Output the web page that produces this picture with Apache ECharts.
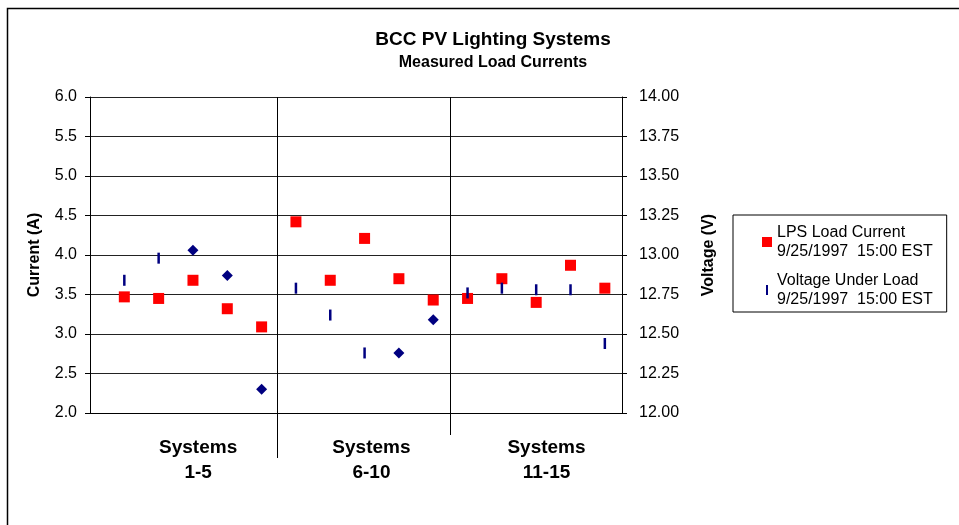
<!DOCTYPE html>
<html>
<head>
<meta charset="utf-8">
<script src="https://cdn.jsdelivr.net/npm/echarts@6/dist/echarts.min.js"></script>
<style>
  html, body { margin: 0; padding: 0; background: #fff; }
  #chart { width: 959px; height: 525px; }
</style>
</head>
<body>
<div id="chart"></div>
<script>
// data
var systems = [1, 2, 3, 4, 5, 6, 7, 8, 9, 10, 11, 12, 13, 14, 15];
var loadCurrent = [3.47, 3.45, 3.68, 3.32, 3.09, 4.42, 3.68, 4.21, 3.70, 3.43, 3.45, 3.70, 3.40, 3.87, 3.58];
var voltageUnderLoad = [12.84, 12.98, null, null, null, 12.79, 12.62, 12.38, null, null, 12.76, 12.79, 12.78, 12.78, 12.44];
var voltageOther = [null, null, 13.03, 12.87, 12.15, null, null, null, 12.38, 12.59, null, null, null, null, null];
var currentTicks = [2.0, 2.5, 3.0, 3.5, 4.0, 4.5, 5.0, 5.5, 6.0];
var voltageTicks = [12.0, 12.25, 12.5, 12.75, 13.0, 13.25, 13.5, 13.75, 14.0];
var groupLabels = ["Systems\n1-5", "Systems\n6-10", "Systems\n11-15"];
var groupCenters = [3.15, 8.2, 13.3];
var dividers = [5.45, 10.5];
var legendDate = "9/25/1997  15:00 EST";

function pairs(xs, ys) {
  var out = [];
  for (var i = 0; i < xs.length; i++) {
    if (ys[i] != null) out.push([xs[i], ys[i]]);
  }
  return out;
}

var font = "Liberation Sans, Arial, sans-serif";
var myChart = echarts.init(document.getElementById("chart"));

var option = {
  animation: false,
  textStyle: { fontFamily: font },
  title: {
    text: "BCC PV Lighting Systems",
    subtext: "Measured Load Currents",
    left: 488,
    top: 25,
    textAlign: "center",
    itemGap: 6,
    textStyle: { fontFamily: font, fontSize: 19, fontWeight: "bold", color: "#000" },
    subtextStyle: { fontFamily: font, fontSize: 16, fontWeight: "bold", color: "#000" },
  },
  legend: {
    orient: "vertical",
    left: 733,
    top: 215,
    padding: [8, 14, 3, 29],
    itemGap: 10,
    borderColor: "#000",
    borderWidth: 1,
    itemWidth: 10,
    itemHeight: 10,
    data: [
      { name: "LPS Load Current", icon: "rect" },
      { name: "Voltage Under Load", icon: "path://M4,0h2v10h-2z", itemStyle: { color: "#000080" } },
    ],
    formatter: function (name) {
      return name + "\n" + legendDate;
    },
    textStyle: { fontFamily: font, fontSize: 16, color: "#000", lineHeight: 19 },
  },
  grid: {
    left: 90,
    right: 337,
    top: 97,
    bottom: 112,
  },
  xAxis: {
    type: "value",
    min: 0,
    max: 15.5,
    axisLabel: { show: false },
    axisTick: { show: false },
    splitLine: { show: false },
    axisLine: { show: true, lineStyle: { color: "#000" } },
  },
  yAxis: [
    {
      type: "value",
      min: currentTicks[0],
      max: currentTicks[currentTicks.length - 1],
      interval: 0.5,
      name: "Current (A)",
      nameLocation: "middle",
      nameGap: 47,
      nameTextStyle: { fontFamily: font, fontSize: 16, fontWeight: "bold", color: "#000" },
      axisLine: { show: true, lineStyle: { color: "#000" } },
      axisTick: { show: true, length: 5, lineStyle: { color: "#000" } },
      axisLabel: {
        margin: 13,
        fontSize: 16,
        color: "#000",
        formatter: function (v) { return v.toFixed(1); },
      },
      splitLine: { show: true, lineStyle: { color: "#222", width: 1 } },
    },
    {
      type: "value",
      position: "right",
      min: voltageTicks[0],
      max: voltageTicks[voltageTicks.length - 1],
      interval: 0.25,
      name: "Voltage (V)",
      nameLocation: "middle",
      nameGap: 79,
      nameRotate: 90,
      nameTextStyle: { fontFamily: font, fontSize: 16, fontWeight: "bold", color: "#000" },
      axisLine: { show: true, lineStyle: { color: "#000" } },
      axisTick: { show: true, length: 5, lineStyle: { color: "#000" } },
      axisLabel: {
        margin: 17,
        fontSize: 16,
        color: "#000",
        formatter: function (v) { return v.toFixed(2); },
      },
      splitLine: { show: false },
    },
  ],
  series: [
    {
      name: "LPS Load Current",
      type: "scatter",
      yAxisIndex: 0,
      symbol: "rect",
      symbolSize: 11,
      itemStyle: { color: "#ff0000", opacity: 1 },
      data: pairs(systems, loadCurrent),
      z: 3,
    },
    {
      name: "Voltage Under Load",
      type: "scatter",
      yAxisIndex: 1,
      symbol: "rect",
      symbolSize: [2.5, 11],
      itemStyle: { color: "#000080", opacity: 1 },
      data: pairs(systems, voltageUnderLoad),
      z: 3,
    },
    {
      name: "Voltage (other)",
      type: "scatter",
      yAxisIndex: 1,
      symbol: "diamond",
      symbolSize: 11,
      itemStyle: { color: "#000080", opacity: 1 },
      data: pairs(systems, voltageOther),
      z: 3,
    },
  ],
};

myChart.setOption(option);

// group dividers and labels, placed through the x axis scale
var graphics = [
  {
    type: "rect",
    shape: { x: 7.5, y: 8.5, width: 1000, height: 1000 },
    style: { fill: null, stroke: "#000", lineWidth: 1.5 },
    silent: true,
  },
];
var topY = myChart.convertToPixel({ yAxisIndex: 0 }, currentTicks[currentTicks.length - 1]);
var botY = myChart.convertToPixel({ yAxisIndex: 0 }, currentTicks[0]);
var dividerExtra = [45, 22];
dividers.forEach(function (d, i) {
  var px = Math.round(myChart.convertToPixel({ xAxisIndex: 0 }, d)) + 0.5;
  graphics.push({
    type: "line",
    shape: { x1: px, y1: topY, x2: px, y2: botY + dividerExtra[i] },
    style: { stroke: "#000", lineWidth: 1 },
    silent: true,
  });
});
groupLabels.forEach(function (lbl, i) {
  var px = myChart.convertToPixel({ xAxisIndex: 0 }, groupCenters[i]);
  graphics.push({
    type: "text",
    x: px,
    y: botY + 22,
    style: {
      text: lbl,
      align: "center",
      verticalAlign: "top",
      fontFamily: font,
      fontSize: 19,
      fontWeight: "bold",
      lineHeight: 25,
      fill: "#000",
    },
    silent: true,
  });
});
myChart.setOption({ graphic: graphics });
</script>
</body>
</html>
